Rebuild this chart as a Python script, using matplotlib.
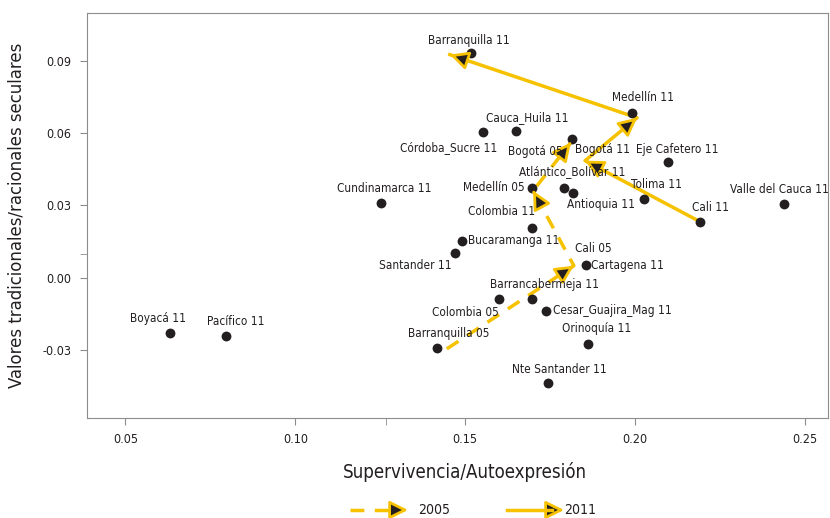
import matplotlib
matplotlib.use('Agg')
import matplotlib.pyplot as plt
from matplotlib import font_manager
from matplotlib.lines import Line2D

# pick a narrow face if one is installed
_fonts = font_manager.fontManager.ttflist
_names = {f.name for f in _fonts}
_dv_cond = any(f.name == 'DejaVu Sans' and 'Condensed' in f.fname for f in _fonts)
if 'Liberation Sans Narrow' in _names:
    plt.rcParams['font.family'] = ['Liberation Sans Narrow', 'DejaVu Sans']
    fs = 1.0
elif _dv_cond:
    plt.rcParams['font.family'] = ['DejaVu Sans']
    plt.rcParams['font.stretch'] = 'condensed'
    fs = 0.92
else:
    plt.rcParams['font.family'] = ['Liberation Sans', 'DejaVu Sans']
    fs = 0.85

# points (supervivencia/autoexpresion, tradicionales/seculares)
labels = ['Barranquilla 11', 'Medellín 11', 'Cauca_Huila 11', 'Córdoba_Sucre 11',
          'Bogotá 05', 'Bogotá 11', 'Eje Cafetero 11', 'Atlántico_Bolívar 11',
          'Medellín 05', 'Antioquia 11', 'Tolima 11', 'Cali 11', 'Valle del Cauca 11',
          'Cundinamarca 11', 'Colombia 11', 'Bucaramanga 11', 'Santander 11',
          'Cali 05', 'Cartagena 11', 'Barrancabermeja 11', 'Colombia 05',
          'Cesar_Guajira_Mag 11', 'Barranquilla 05', 'Orinoquía 11',
          'Nte Santander 11', 'Boyacá 11', 'Pacífico 11']
x_vals = [0.1517, 0.1991, 0.1650, 0.1552, 0.1814, 0.1853, 0.2097, 0.1791,
          0.1697, 0.1818, 0.2026, 0.2191, 0.2438, 0.1252, 0.1697, 0.1491,
          0.1470, 0.1820, 0.1856, 0.1697, 0.1600, 0.1738, 0.1417, 0.1861,
          0.1743, 0.0631, 0.0796]
y_vals = [0.0934, 0.0685, 0.0610, 0.0606, 0.0577, 0.0486, 0.0482, 0.0374,
          0.0374, 0.0353, 0.0328, 0.0233, 0.0307, 0.0311, 0.0208, 0.0154,
          0.0104, 0.0050, 0.0054, -0.0087, -0.0087, -0.0137, -0.0291, -0.0274,
          -0.0436, -0.0228, -0.0241]
# these two sit under an arrowhead in the original, no dot shown
under_arrow = ['Bogotá 11', 'Cali 05']

# trajectories
path05_x = [0.1446, 0.1820, 0.1700, 0.1811]
path05_y = [-0.0295, 0.0050, 0.0361, 0.0561]
path11_x = [0.2191, 0.1853, 0.2006, 0.1455]
path11_y = [0.0233, 0.0486, 0.0664, 0.0926]

# label offsets in pixels (dx, dy up), alignment
offsets = {
    'Barranquilla 11': (-2, 12, 'center'), 'Medellín 11': (11, 15, 'center'),
    'Cauca_Huila 11': (11, 13, 'center'), 'Córdoba_Sucre 11': (14, -16, 'right'),
    'Bogotá 05': (-9, -13, 'right'), 'Bogotá 11': (-10, 11, 'left'),
    'Eje Cafetero 11': (9, 12, 'center'), 'Atlántico_Bolívar 11': (8, 16, 'center'),
    'Medellín 05': (-7, 0, 'right'), 'Antioquia 11': (-6, -12, 'left'),
    'Tolima 11': (13, 14, 'center'), 'Cali 11': (11, 14, 'center'),
    'Valle del Cauca 11': (45, 14, 'right'), 'Cundinamarca 11': (3, 14, 'center'),
    'Colombia 11': (3, 16, 'right'), 'Bucaramanga 11': (6, 0, 'left'),
    'Santander 11': (-3, -13, 'right'), 'Cali 05': (19, 17, 'center'),
    'Cartagena 11': (5, -1, 'left'), 'Barrancabermeja 11': (12, 14, 'center'),
    'Colombia 05': (0, -14, 'right'), 'Cesar_Guajira_Mag 11': (7, 0, 'left'),
    'Barranquilla 05': (12, 14, 'center'), 'Orinoquía 11': (9, 15, 'center'),
    'Nte Santander 11': (12, 13, 'center'), 'Boyacá 11': (-12, 14, 'center'),
    'Pacífico 11': (10, 14, 'center'),
}

gold = '#f6c200'
dark = '#231f20'
gray = '#8c8c8c'

fig = plt.figure(figsize=(8.3, 5.18), dpi=100)
ax = fig.add_axes([0.1045, 0.193, 0.893, 0.7825])

dot_x = [x for lab, x in zip(labels, x_vals) if lab not in under_arrow]
dot_y = [y for lab, y in zip(labels, y_vals) if lab not in under_arrow]
ax.scatter(dot_x, dot_y, s=50, color=dark, zorder=3, linewidths=0)

for lab, x, y in zip(labels, x_vals, y_vals):
    dx, dy, ha = offsets[lab]
    ax.annotate(lab, (x, y), xytext=(dx * 0.72, dy * 0.72), textcoords='offset points',
                ha=ha, va='center', fontsize=9.2 * fs, color=dark, zorder=5,
                annotation_clip=False)

HEAD = '-|>,head_length=1.1,head_width=0.55'


def head(a, b):
    xs = (b[0] - 0.02 * (b[0] - a[0]), b[1] - 0.02 * (b[1] - a[1]))
    ax.annotate('', xy=b, xytext=xs, zorder=4,
                arrowprops=dict(arrowstyle=HEAD, fc=dark, ec=gold, lw=2,
                                shrinkA=0, shrinkB=0))


ax.plot(path05_x, path05_y, color=gold, lw=2.5, dashes=(4, 3), zorder=2)
ax.plot(path11_x, path11_y, color=gold, lw=2.5, zorder=2)
for px, py in [(path05_x, path05_y), (path11_x, path11_y)]:
    for i in range(len(px) - 1):
        head((px[i], py[i]), (px[i + 1], py[i + 1]))

ax.set_xlim(0.0386, 0.2568)
ax.set_ylim(-0.0582, 0.110)
ax.set_xticks([0.05, 0.10, 0.15, 0.20, 0.25])
ax.set_xticklabels(['0.05', '0.10', '0.15', '0.20', '0.25'])
ax.set_yticks([-0.03, 0.00, 0.03, 0.06, 0.09])
ax.set_yticklabels(['-0.03', '0.00', '0.03', '0.06', '0.09'])
ax.set_xticks([0.1267], minor=True)
ax.set_yticks([0.0099], minor=True)
ax.tick_params(which='both', direction='out', length=5, color=gray, labelsize=9.8 * fs,
               labelcolor=dark, pad=6)
for sp in ['top', 'right', 'left', 'bottom']:
    ax.spines[sp].set_color(gray)

ax.set_xlabel('Supervivencia/Autoexpresión', fontsize=14.6 * fs, color=dark)
ax.xaxis.set_label_coords(0.51, -0.108)
ax.set_ylabel('Valores tradicionales/racionales seculares', fontsize=14.4 * fs, color=dark,
              labelpad=12)

# legend drawn below the axis title
ly = 1 - 510 / 518
fig.add_artist(Line2D([350 / 830, 396 / 830], [ly, ly], color=gold, lw=2.5, dashes=(4, 3)))
fig.add_artist(Line2D([507 / 830, 552 / 830], [ly, ly], color=gold, lw=2.5))
for x0 in [396 / 830, 552 / 830]:
    ax.annotate('', xy=(x0 + 12 / 830, ly), xytext=(x0, ly), xycoords='figure fraction',
                arrowprops=dict(arrowstyle=HEAD, fc=dark, ec=gold, lw=2,
                                shrinkA=0, shrinkB=0),
                annotation_clip=False)
fig.text(418 / 830, ly, '2005', fontsize=11 * fs, color=dark, va='center')
fig.text(564 / 830, ly, '2011', fontsize=11 * fs, color=dark, va='center')

fig.savefig('out.png', dpi=100)
